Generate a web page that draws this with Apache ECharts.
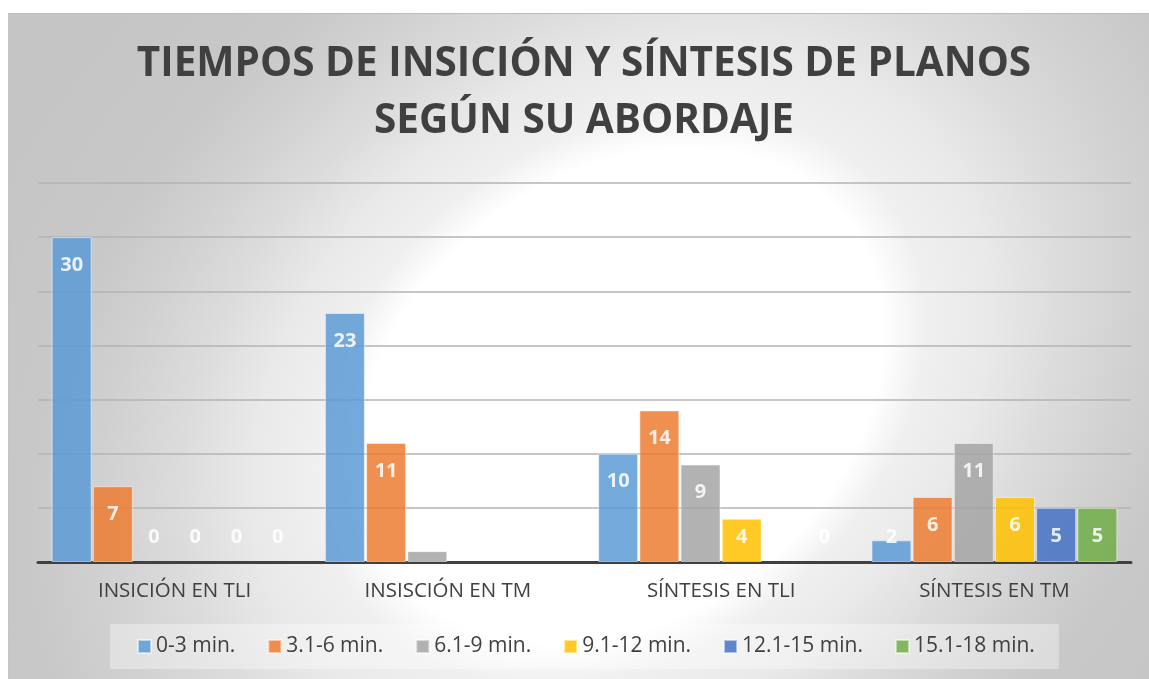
<!DOCTYPE html>
<html>
<head>
<meta charset="utf-8">
<script src="https://cdn.jsdelivr.net/npm/echarts@6/dist/echarts.min.js"></script>
<style>
html,body{margin:0;padding:0;background:#fff;width:1149px;height:679px;overflow:hidden;}
#frame{position:absolute;left:8px;top:13px;width:1141px;height:666px;border-top:1px solid #bdbdbd;border-left:1px solid #c4c4c4;overflow:hidden;background:#c6c6c6;}
#glow{position:absolute;left:-888px;top:-1118px;width:3000px;height:3000px;transform:rotate(-39deg);transform-origin:50% 50%;
background:radial-gradient(ellipse 1300px 1000px at 50% 50%,#ffffff 0%,#ffffff 22%,#f0f0f0 25.5%,#e9e9e9 31%,#dcdcdc 37%,#d0d0d0 44%,#c8c8c8 50%,#c5c5c5 62%);}
#chart{position:absolute;left:0;top:0;width:1149px;height:679px;}
</style>
</head>
<body>
<div id="frame"><div id="glow"></div></div>
<div id="chart"></div>
<script>
const titleLines = ['TIEMPOS DE INSICIÓN Y SÍNTESIS DE PLANOS', 'SEGÚN SU ABORDAJE'];
const categories = ['INSICIÓN EN TLI', 'INSISCIÓN EN TM', 'SÍNTESIS EN TLI', 'SÍNTESIS EN TM'];
const seriesNames = ['0-3 min.', '3.1-6 min.', '6.1-9 min.', '9.1-12 min.', '12.1-15 min.', '15.1-18 min.'];
const s0_3 = [30, 23, 10, 2];
const s3_6 = [7, 11, 14, 6];
const s6_9 = [0, 1, 9, 11];
const s9_12 = [0, 0, 4, 6];
const s12_15 = [0, 0, 0, 5];
const s15_18 = [0, 0, 0, 5];
const yTicks = [0, 5, 10, 15, 20, 25, 30, 35];

const allValues = [s0_3, s3_6, s6_9, s9_12, s12_15, s15_18];
const colors = ['#5B9BD5', '#ED7D31', '#A5A5A5', '#FFC000', '#4472C4', '#70AD47'];

function makeData(arr) {
  return arr.map(v => {
    const item = { value: v };
    if (v < 4.8) item.label = { position: 'insideBottom', distance: 15 };
    if (v === 0) item.itemStyle = { borderWidth: 0 };
    return item;
  });
}

const series = allValues.map((arr, i) => ({
  name: seriesNames[i],
  type: 'bar',
  barCategoryGap: '10%',
  barGap: '3%',
  data: makeData(arr),
  itemStyle: { color: colors[i], opacity: 0.85, borderColor: 'rgba(255,255,255,0.6)', borderWidth: 1 },
  label: {
    show: true,
    position: 'insideTop',
    distance: 18,
    color: '#ffffff',
    fontFamily: 'Open Sans',
    fontWeight: 'bold',
    fontSize: 20
  },
  emphasis: { disabled: true }
}));

const chart = echarts.init(document.getElementById('chart'), null, { renderer: 'canvas' });
chart.setOption({
  backgroundColor: 'transparent',
  animation: false,
  graphic: titleLines.map((t, i) => ({
    type: 'text',
    x: 584,
    y: 64 + i * 57,
    silent: true,
    style: {
      text: t,
      textAlign: 'center',
      textVerticalAlign: 'middle',
      fontFamily: 'Open Sans',
      fontWeight: 'bold',
      fontSize: 40.5,
      fill: '#404040'
    }
  })),
  legend: {
    left: 110,
    top: 624,
    padding: [12, 24, 12, 27],
    itemWidth: 13,
    itemHeight: 13,
    itemGap: 32,
    icon: 'rect',
    backgroundColor: 'rgba(255,255,255,0.35)',
    textStyle: { fontFamily: 'Open Sans', fontSize: 21, color: '#404040' },
    data: seriesNames
  },
  grid: { left: 38, right: 18, top: 183, bottom: 117, containLabel: false },
  xAxis: {
    type: 'category',
    data: categories,
    axisLine: { lineStyle: { color: '#404040', width: 3 } },
    axisTick: { show: false },
    axisLabel: { margin: 19, fontFamily: 'Open Sans', fontSize: 20.5, color: '#404040' }
  },
  yAxis: {
    type: 'value',
    min: yTicks[0],
    max: yTicks[yTicks.length - 1],
    interval: yTicks[1] - yTicks[0],
    axisLabel: { show: false },
    axisLine: { show: false },
    axisTick: { show: false },
    splitLine: { lineStyle: { color: '#b3b3b3', width: 1.5 } }
  },
  series: series
});
</script>
</body>
</html>
